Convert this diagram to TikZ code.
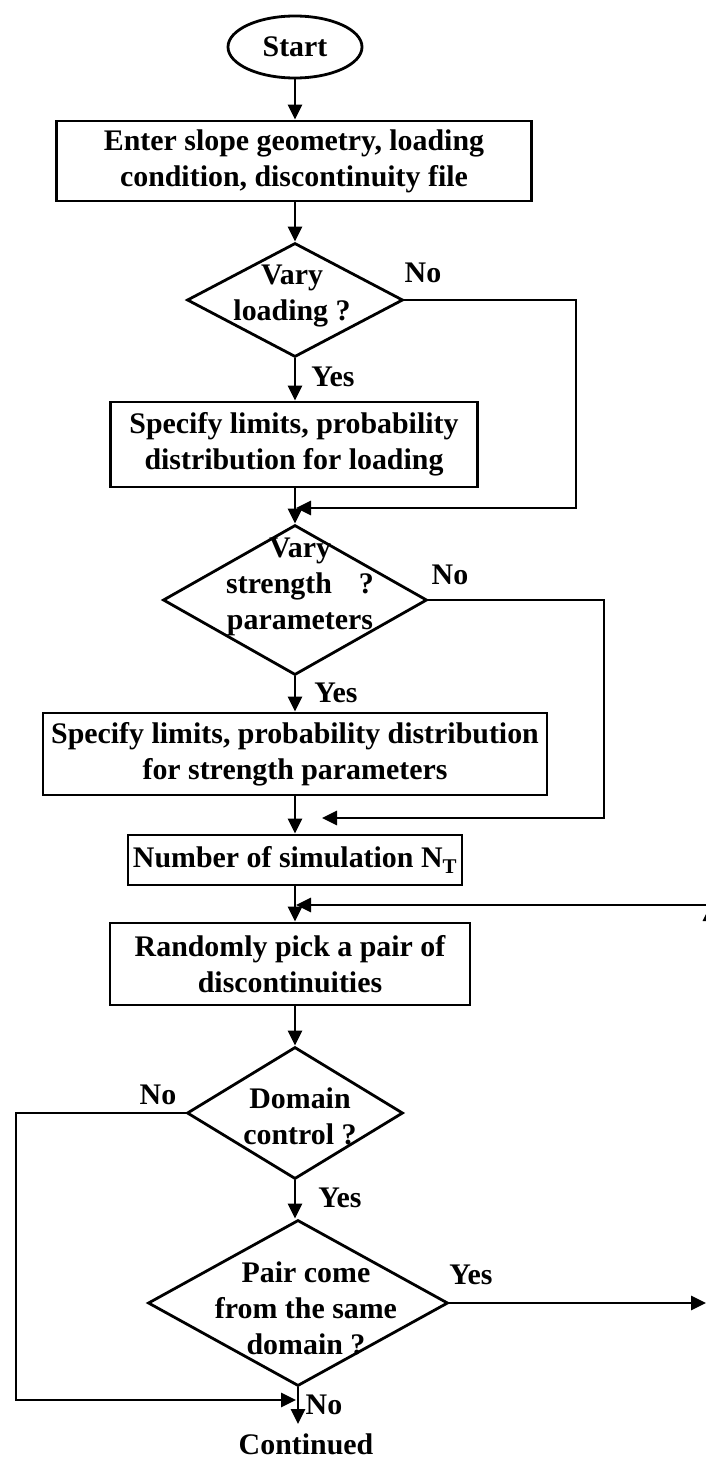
\documentclass[tikz,border=0pt]{standalone}
\usepackage{fontspec}
\setmainfont{Liberation Serif}
\usetikzlibrary{shapes.geometric,arrows.meta}
\begin{document}
\begin{tikzpicture}[x=1bp,y=-1bp, line width=2.8bp,
  every node/.style={font=\bfseries\fontsize{30}{36}\selectfont, inner sep=0pt},
  box/.style={draw, rectangle, align=center},
  dia/.style={draw, diamond},
  lbl/.style={align=center},
  arr/.style={-{Triangle[length=15bp,width=14bp]}}]
\useasboundingbox (0,0) rectangle (706,1465);

% main nodes
\node[draw, ellipse, minimum width=134bp, minimum height=62bp] (start) at (295,47) {Start};
\node[box, minimum width=475bp, minimum height=80bp] (b1) at (294,161)
  {Enter slope geometry, loading\\condition, discontinuity file};
\node[dia, minimum width=216bp, minimum height=114bp] (d1) at (295,300) {};
\node[lbl] (d1t) at (292,296) {Vary\\loading ?};
\node[box, minimum width=367bp, minimum height=85bp] (b2) at (294,444.5)
  {Specify limits, probability\\distribution for loading};
\node[dia, minimum width=264bp, minimum height=150bp] (d2) at (295,600) {};
\node[lbl] (d2t) at (300,587) {Vary\\strength\hspace{27bp}?\\parameters};
\node[box, minimum width=504bp, minimum height=82bp] (b3) at (295,754)
  {Specify limits, probability distribution\\for strength parameters};
\node[box, minimum width=334bp, minimum height=50bp] (b4) at (295,860)
  {Number of simulation N\textsubscript{T}};
\node[box, minimum width=360bp, minimum height=82bp] (b5) at (290,964)
  {Randomly pick a pair of\\discontinuities};
\node[dia, minimum width=216bp, minimum height=132bp] (d3) at (295,1113) {};
\node[lbl] (d3t) at (300,1116) {Domain\\control ?};
\node[dia, minimum width=300bp, minimum height=166bp] (d4) at (298,1303) {};
\node[lbl] (d4t) at (306,1308) {Pair come\\from the same\\domain ?};
\node (cont) at (306,1444) {Continued};

% labels
\node (no1) at (423,273) {No};
\node (yes1) at (333,377) {Yes};
\node (no2) at (450,575) {No};
\node (yes2) at (336,693) {Yes};
\node (no3) at (158,1095) {No};
\node (yes3) at (340,1198) {Yes};
\node (yes4) at (471,1275) {Yes};
\node (no4) at (324,1405) {No};

% coordinates
\coordinate (r1) at (576,508);
\coordinate (j1) at (296,508);
\coordinate (r2) at (604,818);
\coordinate (j2) at (322,818);
\coordinate (r3) at (712,905);
\coordinate (j3) at (296,905);
\coordinate (f1) at (710,960);
\coordinate (f2) at (710,906);
\coordinate (l1) at (16,1400);
\coordinate (j4) at (296,1400);
\coordinate (r4) at (706,1303);
\coordinate (ce) at (298,1424);

% spine
\draw[arr] (start.south) -- (start.south |- b1.north);
\draw[arr] (b1.south -| d1.north) -- (d1.north);
\draw[arr] (d1.south) -- (d1.south |- b2.north);
\draw[arr] (b2.south -| d2.north) -- (d2.north);
\draw[arr] (d2.south) -- (d2.south |- b3.north);
\draw[arr] (b3.south) -- (b4.north);
\draw[arr] (b4.south -| b3.south) -- (b3.south |- b5.north);
\draw[arr] (b5.south -| d3.north) -- (d3.north);
\draw[arr] (d3.south) -- (d3.south |- d4.north);
\draw[arr] (d4.south) -- (ce);

% loops
\draw[arr] (d1.east) -| (r1) -- (j1);
\draw[arr] (d2.east) -| (r2) -- (j2);
\draw[arr] (r3) -- (j3);
\draw[arr] (f1) -- (f2);
\draw[arr] (d3.west) -| (l1) -- (j4);
\draw[arr] (d4.east) -- (r4);
\end{tikzpicture}
\end{document}
